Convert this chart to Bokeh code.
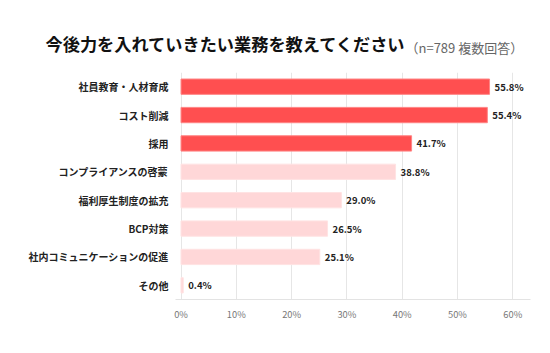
from bokeh.plotting import figure
from bokeh.models import FixedTicker, LabelSet, Title, ColumnDataSource
from bokeh.core.properties import value
from bokeh.embed import file_html
from bokeh.resources import INLINE

categories = ["社員教育・人材育成", "コスト削減", "採用", "コンプライアンスの啓蒙",
              "福利厚生制度の拡充", "BCP対策", "社内コミュニケーションの促進", "その他"]
values = [55.8, 55.4, 41.7, 38.8, 29.0, 26.5, 25.1, 0.4]
highlight = [True, True, True, False, False, False, False, False]
tick_values = [0, 10, 20, 30, 40, 50, 60]
tick_labels = ["0%", "10%", "20%", "30%", "40%", "50%", "60%"]
title_main = "今後力を入れていきたい業務を教えてください"
title_sub = "（n=789 複数回答）"

JP = "Noto Sans CJK JP"
dark = "#FF4F50"
light = "#FFD7D8"

W, H = 550, 353
src = ColumnDataSource(dict(
    cat=categories,
    val=values,
    lab=[f"{v:.1f}%" for v in values],
    color=[dark if h else light for h in highlight],
    line=["#FF8585" if h else "#FFE3E3" for h in highlight],
))

left_px, frame_w = 175, 355
top_px, frame_h = 72, 227
x0 = -1.0
x1 = x0 + 62.4 * frame_w / 345

p = figure(width=W, height=H, output_backend="svg", toolbar_location=None,
           y_range=list(reversed(categories)), x_range=(x0, x1),
           min_border_left=left_px, min_border_right=W - left_px - frame_w,
           min_border_top=top_px, min_border_bottom=H - top_px - frame_h)
p.outline_line_color = None

p.hbar(y="cat", left=0, right="val", height=0.54, fill_color="color", line_color="line",
       line_width=1, source=src)
p.add_layout(LabelSet(x="val", y="cat", text="lab", x_offset=5, text_baseline="middle",
                      text_align="left", text_font=value(JP), text_font_size="9.5px",
                      text_font_style="bold", text_color="#222222", source=src))

p.title.text = title_main
p.title.align = "left"
p.title.offset = 45 - left_px
p.title.standoff = -72
p.title.text_font = JP
p.title.text_font_size = "17.2px"
p.title.text_font_style = "bold"
p.title.text_color = "#111111"

sub = Title(text=title_sub, align="left", offset=405 - left_px, standoff=32,
            text_font=JP, text_font_size="13px", text_font_style="normal",
            text_color="#666666")
p.add_layout(sub, "above")

p.xaxis.ticker = FixedTicker(ticks=tick_values)
p.xaxis.major_label_overrides = {tv: tl for tv, tl in zip(tick_values, tick_labels)}
p.xaxis.axis_line_color = "#E3E3E3"
p.xaxis.major_tick_line_color = None
p.xaxis.major_tick_out = 0
p.xaxis.minor_tick_line_color = None
p.xaxis.major_label_text_color = "#777777"
p.xaxis.major_label_text_font = JP
p.xaxis.major_label_text_font_size = "7pt"
p.xaxis.major_label_standoff = 7

p.yaxis.axis_line_color = None
p.yaxis.major_tick_line_color = None
p.yaxis.major_tick_out = 0
p.yaxis.minor_tick_line_color = None
p.yaxis.major_label_text_font = JP
p.yaxis.major_label_text_font_size = "10px"
p.yaxis.major_label_text_font_style = "bold"
p.yaxis.major_label_text_color = "#222222"
p.yaxis.major_label_standoff = 7

p.xgrid.grid_line_color = "#E6E6E6"
p.ygrid.grid_line_color = None

open("out.html", "w").write(file_html(p, INLINE))
